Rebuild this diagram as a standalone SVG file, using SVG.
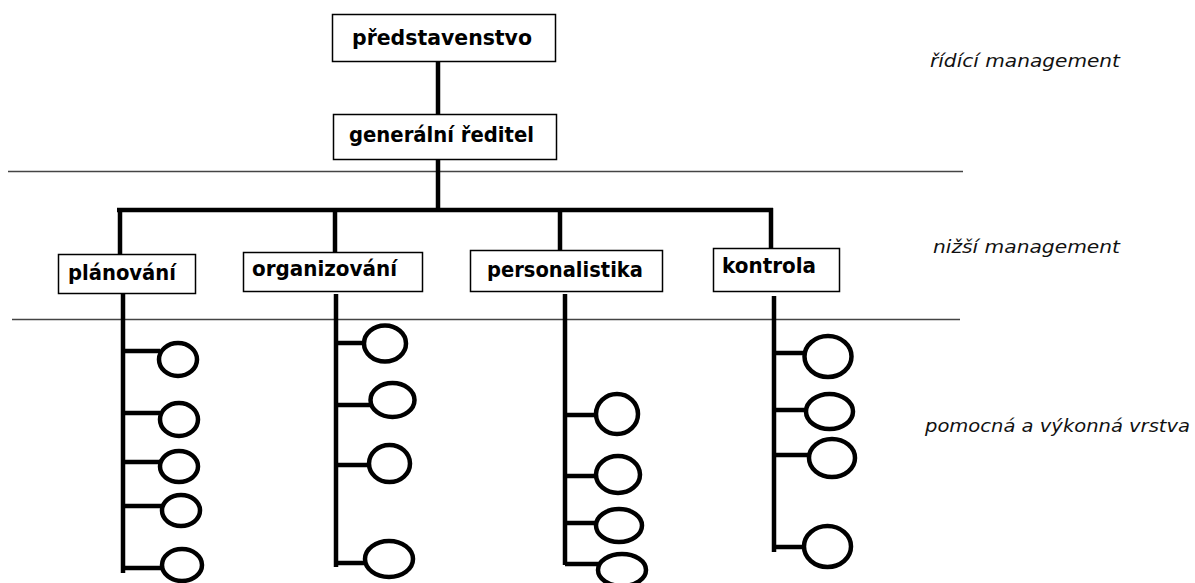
<svg xmlns="http://www.w3.org/2000/svg" width="1195" height="583" viewBox="0 0 1195 583">
<style>
.box{fill:#fff;stroke:#000;stroke-width:1.5}
.lbl{font-family:"DejaVu Sans","Liberation Sans",sans-serif;font-weight:bold;font-size:21px;fill:#000}
.side{font-family:"DejaVu Sans","Liberation Sans",sans-serif;font-style:italic;font-size:18px;fill:#111}
.sep{stroke:#444;stroke-width:1.5}
.con{stroke:#000;stroke-width:4.5;fill:none}
.ell{fill:#fff;stroke:#000;stroke-width:4.5}
</style>
<rect width="1195" height="583" fill="#fff"/>
<g id="separators">
<line class="sep" x1="8" y1="171.5" x2="963" y2="171.5"/>
<line class="sep" x1="12" y1="319.5" x2="960" y2="319.5"/>
</g>
<g id="connectors">
<line class="con" x1="438" y1="61" x2="438" y2="114"/>
<line class="con" x1="438" y1="159" x2="438" y2="210"/>
<line class="con" x1="117" y1="210" x2="773" y2="210"/>
<line class="con" x1="120" y1="210" x2="120" y2="254"/>
<line class="con" x1="335" y1="210" x2="335" y2="252"/>
<line class="con" x1="560" y1="210" x2="560" y2="250"/>
<line class="con" x1="771" y1="208" x2="771" y2="248"/>
<line class="con" x1="123" y1="294" x2="123" y2="573"/>
<path class="con" d="M123 351H160M123 413H160M123 462H160M123 506H163M123 568H163"/>
<line class="con" x1="336" y1="294" x2="336" y2="567"/>
<path class="con" d="M336 343H365M336 405H371M336 465H370M336 563H366"/>
<line class="con" x1="565" y1="294" x2="565" y2="565"/>
<path class="con" d="M565 415H597M565 476H597M565 523H597M565 564H599"/>
<line class="con" x1="774" y1="296" x2="774" y2="552"/>
<path class="con" d="M774 353H805M774 410H807M774 455H810M774 547H805"/>
</g>
<g id="predstavenstvo">
<rect class="box" x="332.5" y="14.5" width="223" height="47"/>
<text class="lbl" x="352" y="45" textLength="180" lengthAdjust="spacingAndGlyphs">představenstvo</text>
</g>
<g id="generalni-reditel">
<rect class="box" x="333.5" y="114.5" width="223" height="45"/>
<text class="lbl" x="349" y="142" textLength="185" lengthAdjust="spacingAndGlyphs">generální ředitel</text>
</g>
<g id="planovani">
<rect class="box" x="58.5" y="254.5" width="137" height="39"/>
<text class="lbl" x="68" y="280" textLength="108" lengthAdjust="spacingAndGlyphs">plánování</text>
</g>
<g id="organizovani">
<rect class="box" x="243.5" y="252.5" width="179" height="39"/>
<text class="lbl" x="252" y="276" textLength="145" lengthAdjust="spacingAndGlyphs">organizování</text>
</g>
<g id="personalistika">
<rect class="box" x="470.5" y="250.5" width="192" height="41"/>
<text class="lbl" x="487" y="277" textLength="156" lengthAdjust="spacingAndGlyphs">personalistika</text>
</g>
<g id="kontrola">
<rect class="box" x="713.5" y="248.5" width="126" height="43"/>
<text class="lbl" x="722" y="273" textLength="94" lengthAdjust="spacingAndGlyphs">kontrola</text>
</g>
<g id="units-planovani">
<ellipse class="ell" cx="178" cy="359.5" rx="19" ry="16.5"/>
<ellipse class="ell" cx="179" cy="419.5" rx="19" ry="16.5"/>
<ellipse class="ell" cx="179" cy="466.5" rx="19" ry="15.5"/>
<ellipse class="ell" cx="181" cy="510.5" rx="19" ry="15.5"/>
<ellipse class="ell" cx="182" cy="565" rx="20" ry="16"/>
</g>
<g id="units-organizovani">
<ellipse class="ell" cx="385" cy="343.5" rx="21" ry="18"/>
<ellipse class="ell" cx="392.5" cy="400" rx="22" ry="17"/>
<ellipse class="ell" cx="389.5" cy="463.5" rx="20.5" ry="18.5"/>
<ellipse class="ell" cx="389" cy="559" rx="24" ry="18"/>
</g>
<g id="units-personalistika">
<ellipse class="ell" cx="617" cy="414" rx="21" ry="20"/>
<ellipse class="ell" cx="618" cy="474.5" rx="22" ry="18.5"/>
<ellipse class="ell" cx="619" cy="525.5" rx="23" ry="16.5"/>
<ellipse class="ell" cx="622" cy="570" rx="24" ry="16"/>
</g>
<g id="units-kontrola">
<ellipse class="ell" cx="828" cy="356.5" rx="23.5" ry="20.5"/>
<ellipse class="ell" cx="829.5" cy="411.5" rx="23.5" ry="17.5"/>
<ellipse class="ell" cx="832" cy="458" rx="23" ry="19"/>
<ellipse class="ell" cx="827.5" cy="546.5" rx="23.5" ry="20.5"/>
</g>
<g id="layer-labels">
<text class="side" x="930" y="67" textLength="190" lengthAdjust="spacingAndGlyphs">řídící management</text>
<text class="side" x="933" y="253" textLength="187" lengthAdjust="spacingAndGlyphs">nižší management</text>
<text class="side" x="925" y="432" textLength="265" lengthAdjust="spacingAndGlyphs">pomocná a výkonná vrstva</text>
</g>
</svg>
